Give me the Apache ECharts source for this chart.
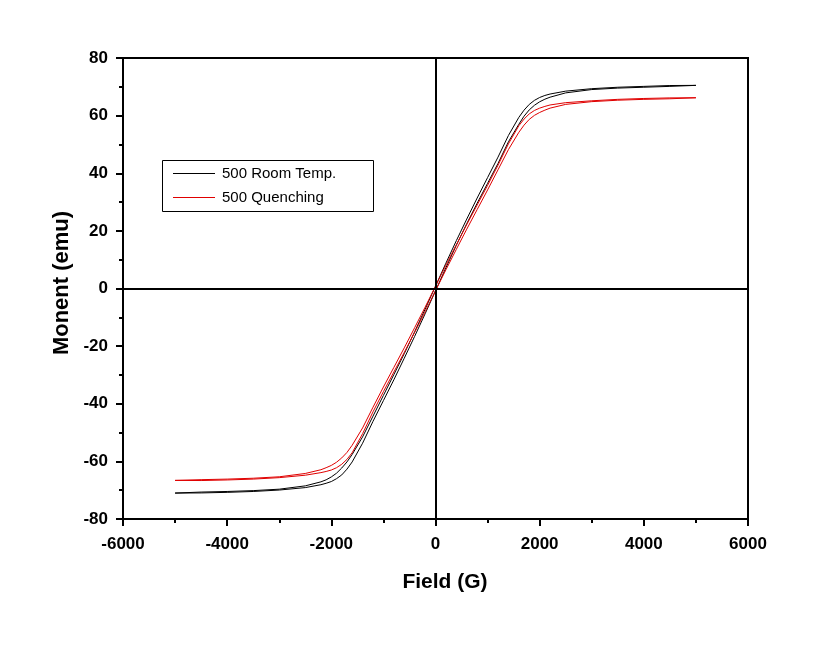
<!DOCTYPE html>
<html>
<head>
<meta charset="utf-8">
<script src="https://cdn.jsdelivr.net/npm/echarts@6/dist/echarts.min.js"></script>
<style>html,body{margin:0;padding:0;background:#fff;}#c{width:820px;height:646px;}</style>
</head>
<body>
<div id="c"></div>
<script>
// Field values (G) shared by all branches
var field = [-5000,-4500,-4000,-3500,-3000,-2500,-2200,-2100,-2000,-1900,-1800,-1700,-1600,-1400,-1200,-1000,-800,-600,-400,-200,0,200,400,600,800,1000,1200,1400,1600,1700,1800,1900,2000,2100,2200,2500,3000,3500,4000,4500,5000];

// 500 Room Temp. : ascending branch (lower) and descending branch (upper)
var roomUp   = [-71.0,-70.95,-70.75,-70.45,-69.95,-69.1,-68.1,-67.6,-67.0,-66.0,-64.7,-62.7,-60.2,-53.7,-46.1,-38.9,-31.7,-24.2,-16.6,-8.8,-0.8,7.2,15.0,22.5,29.6,36.5,43.4,50.9,57.0,59.8,62.0,63.6,64.8,65.7,66.4,67.9,69.05,69.55,69.85,70.15,70.5];
var roomDown = [-71.0,-70.65,-70.45,-70.15,-69.65,-68.5,-67.1,-66.4,-65.4,-64.1,-62.3,-60.2,-57.6,-51.5,-44.3,-37.1,-29.9,-22.6,-15.0,-7.2,0.8,8.8,16.6,24.1,31.4,38.5,45.6,53.1,59.4,61.9,63.9,65.3,66.3,67.0,67.5,68.5,69.35,69.85,70.15,70.45,70.5];

// 500 Quenching
var quenchUp   = [-66.6,-66.65,-66.45,-66.15,-65.65,-64.8,-63.9,-63.5,-63.0,-62.2,-61.0,-59.3,-57.0,-50.4,-42.8,-35.8,-29.0,-22.2,-15.2,-8.1,-0.8,6.5,13.6,20.6,27.4,34.2,41.2,48.2,54.2,56.7,58.7,60.1,61.1,61.9,62.6,63.9,64.85,65.35,65.65,65.85,66.2];
var quenchDown = [-66.6,-66.35,-66.15,-65.85,-65.35,-64.2,-62.9,-62.2,-61.4,-60.3,-58.8,-56.9,-54.4,-48.4,-41.2,-34.2,-27.4,-20.6,-13.6,-6.5,0.8,8.1,15.2,22.2,29.0,35.8,42.8,50.2,56.5,58.8,60.6,61.8,62.6,63.2,63.7,64.5,65.15,65.65,65.95,66.15,66.2];

var xTicks = {min:-6000, max:6000, interval:2000};
var yTicks = {min:-80, max:80, interval:20};
var legendNames = ['500 Room Temp.','500 Quenching'];

function loop(up, down){
  var d = [];
  for (var i=0;i<field.length;i++) d.push([field[i], up[i]]);
  for (var j=field.length-1;j>=0;j--) d.push([field[j], down[j]]);
  return d;
}

var FONT = '"Liberation Sans", Arial, sans-serif';
function axis(extra, margin){
  return Object.assign({
    type:'value',
    axisLine:{show:true, onZero:false, lineStyle:{color:'#000', width:2}},
    axisTick:{show:true, inside:false, length:7, lineStyle:{color:'#000', width:2}},
    minorTick:{show:true, splitNumber:2, length:4, lineStyle:{color:'#000', width:2}},
    splitLine:{show:false},
    minorSplitLine:{show:false},
    axisLabel:{color:'#000', fontFamily:FONT, fontWeight:'bold', fontSize:17, margin:margin,
      formatter:function(v){ return String(v); }}
  }, extra);
}

var chart = echarts.init(document.getElementById('c'), null, {renderer:'canvas'});
chart.setOption({
  animation:false,
  backgroundColor:'#fff',
  grid:{left:123, right:72, top:58, bottom:127, show:true, borderColor:'#000', borderWidth:2, backgroundColor:'transparent'},
  xAxis: axis({min:xTicks.min, max:xTicks.max, interval:xTicks.interval}, 17),
  yAxis: axis({min:yTicks.min, max:yTicks.max, interval:yTicks.interval}, 15),
  legend:{
    orient:'vertical', left:168, top:160,
    icon:'rect', itemWidth:42, itemHeight:1, itemGap:7,
    textStyle:{fontFamily:FONT, fontSize:15, color:'#000', padding:[0,0,0,2], lineHeight:17},
    data:legendNames
  },
  graphic:[
    {type:'rect', shape:{x:162.5, y:160.5, width:211, height:51}, style:{fill:'none', stroke:'#000', lineWidth:1}, z:100},
    {type:'text', x:445, y:582, style:{text:'Field (G)', font:'bold 21px ' + FONT, fill:'#000', textAlign:'center', textVerticalAlign:'middle'}},
    {type:'text', x:62, y:283, rotation:Math.PI/2, style:{text:'Monent (emu)', font:'bold 22px ' + FONT, fill:'#000', textAlign:'center', textVerticalAlign:'middle'}}
  ],
  series:[
    {name:legendNames[0], type:'line', data:loop(roomUp, roomDown), symbol:'none', showSymbol:false, lineStyle:{color:'#000', width:1}, itemStyle:{color:'#000'},
     markLine:{silent:true, symbol:'none', label:{show:false}, lineStyle:{color:'#000', width:2, type:'solid'}, data:[{xAxis:0},{yAxis:0}]}},
    {name:legendNames[1], type:'line', data:loop(quenchUp, quenchDown), symbol:'none', showSymbol:false, lineStyle:{color:'#e00000', width:1}, itemStyle:{color:'#e00000'}}
  ]
});
</script>
</body>
</html>
